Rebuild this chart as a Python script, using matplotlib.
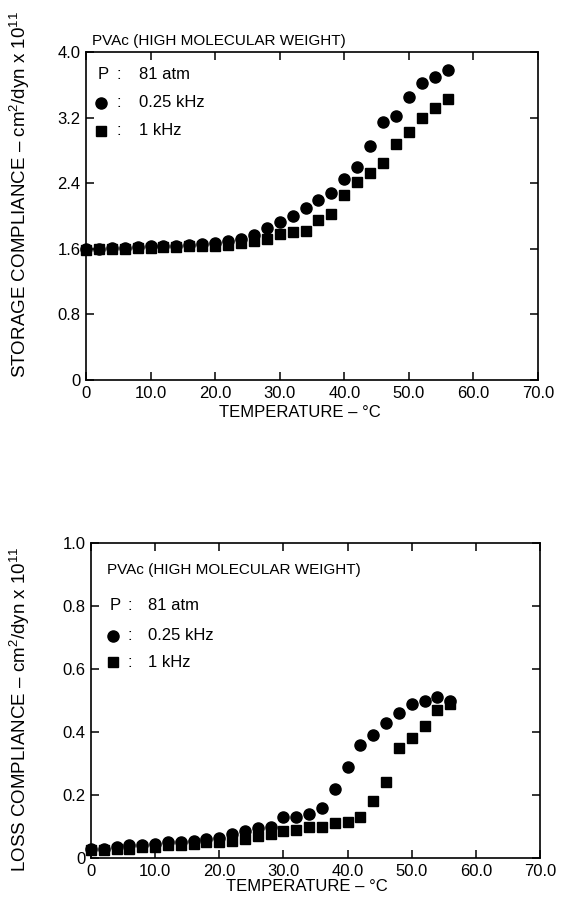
import matplotlib
matplotlib.use("Agg")
import matplotlib.pyplot as plt

plt.rcParams['font.family'] = ['Liberation Sans', 'DejaVu Sans']
plt.rcParams['mathtext.fontset'] = 'custom'
plt.rcParams['mathtext.rm'] = 'Liberation Sans'
plt.rcParams['mathtext.it'] = 'Liberation Sans'

# ---- data ----
temperature = [0, 2, 4, 6, 8, 10, 12, 14, 16, 18, 20, 22, 24, 26, 28,
               30, 32, 34, 36, 38, 40, 42, 44, 46, 48, 50, 52, 54, 56]

storage_025khz = [1.60, 1.60, 1.61, 1.61, 1.62, 1.63, 1.63, 1.64, 1.65, 1.66,
                  1.67, 1.69, 1.72, 1.77, 1.85, 1.93, 2.00, 2.10, 2.20, 2.28,
                  2.45, 2.60, 2.85, 3.15, 3.22, 3.45, 3.62, 3.70, 3.78]
storage_1khz = [1.59, 1.60, 1.60, 1.60, 1.61, 1.61, 1.62, 1.62, 1.63, 1.64,
                1.64, 1.65, 1.67, 1.69, 1.72, 1.78, 1.80, 1.82, 1.95, 2.03,
                2.25, 2.42, 2.52, 2.65, 2.88, 3.03, 3.20, 3.32, 3.43]

loss_025khz = [0.030, 0.030, 0.035, 0.040, 0.040, 0.045, 0.050, 0.050, 0.055, 0.060,
               0.065, 0.075, 0.085, 0.095, 0.100, 0.130, 0.130, 0.140, 0.160, 0.220,
               0.290, 0.360, 0.390, 0.430, 0.460, 0.490, 0.500, 0.510, 0.500]
loss_1khz = [0.025, 0.025, 0.030, 0.030, 0.035, 0.035, 0.040, 0.040, 0.045, 0.050,
             0.050, 0.055, 0.060, 0.070, 0.075, 0.085, 0.090, 0.100, 0.100, 0.110,
             0.115, 0.130, 0.180, 0.240, 0.350, 0.380, 0.420, 0.470, 0.490]

x_ticks = [0, 10, 20, 30, 40, 50, 60, 70]
x_ticklabels = ['0', '10.0', '20.0', '30.0', '40.0', '50.0', '60.0', '70.0']
storage_ticks = [0, 0.8, 1.6, 2.4, 3.2, 4.0]
storage_ticklabels = ['0', '0.8', '1.6', '2.4', '3.2', '4.0']
loss_ticks = [0, 0.2, 0.4, 0.6, 0.8, 1.0]
loss_ticklabels = ['0', '0.2', '0.4', '0.6', '0.8', '1.0']

title = 'PVAc (HIGH MOLECULAR WEIGHT)'
pressure = '81 atm'
freq_labels = ['0.25 kHz', '1 kHz']

fig = plt.figure(figsize=(5.69, 9.14), dpi=100)
W, H = 569, 914

def add_axes_px(left, top, right, bottom):
    return fig.add_axes([left / W, 1 - bottom / H, (right - left) / W, (bottom - top) / H])

ax1 = add_axes_px(86, 52, 538, 380)
ax2 = add_axes_px(91, 543, 540, 858)

ms = 8
FS = 11
LFS = 12
TFS = 12

def style(ax, yticks, yticklabels, ylim):
    ax.set_xlim(0, 70)
    ax.set_ylim(*ylim)
    ax.set_xticks(x_ticks)
    ax.set_xticklabels(x_ticklabels, fontsize=TFS)
    ax.set_yticks(yticks)
    ax.set_yticklabels(yticklabels, fontsize=TFS)
    ax.tick_params(direction='in', length=6, width=1.1, top=True, right=True, pad=4)
    for s in ax.spines.values():
        s.set_linewidth(1.2)

# top
ax1.plot(temperature, storage_025khz, 'o', color='black', ms=ms, clip_on=False)
ax1.plot(temperature, storage_1khz, 's', color='black', ms=ms - 0.5, clip_on=False)
style(ax1, storage_ticks, storage_ticklabels, (0, 4.0))

# bottom
ax2.plot(temperature, loss_025khz, 'o', color='black', ms=ms, clip_on=False)
ax2.plot(temperature, loss_1khz, 's', color='black', ms=ms - 0.5, clip_on=False)
style(ax2, loss_ticks, loss_ticklabels, (0, 1.0))

def annotate(ax, ty, py, cy, sy, tx, sx, colx, valx):
    ax.text(tx, ty, title, transform=ax.transAxes, fontsize=FS, va='center', ha='left')
    ax.text(sx - 0.008, py, 'P', transform=ax.transAxes, fontsize=LFS, va='center', ha='left')
    ax.text(colx, py, ':', transform=ax.transAxes, fontsize=LFS, va='center', ha='left')
    ax.text(valx, py, pressure, transform=ax.transAxes, fontsize=LFS, va='center', ha='left')
    ax.plot([sx], [cy], 'o', color='black', ms=ms, transform=ax.transAxes, clip_on=False)
    ax.text(colx, cy, ':', transform=ax.transAxes, fontsize=LFS, va='center', ha='left')
    ax.text(valx, cy, freq_labels[0], transform=ax.transAxes, fontsize=LFS, va='center', ha='left')
    ax.plot([sx], [sy], 's', color='black', ms=ms - 0.5, transform=ax.transAxes, clip_on=False)
    ax.text(colx, sy, ':', transform=ax.transAxes, fontsize=LFS, va='center', ha='left')
    ax.text(valx, sy, freq_labels[1], transform=ax.transAxes, fontsize=LFS, va='center', ha='left')

annotate(ax1, 1.035, 0.93, 0.845, 0.76, 0.013, 0.033, 0.068, 0.118)
annotate(ax2, 0.914, 0.80, 0.705, 0.622, 0.036, 0.050, 0.082, 0.127)

fig.text(0.035, 0.787, 'STORAGE COMPLIANCE – cm$^2$/dyn x 10$^{11}$', rotation=90,
         fontsize=13.5, ha='center', va='center')
fig.text(0.035, 0.224, 'LOSS COMPLIANCE – cm$^2$/dyn x 10$^{11}$', rotation=90,
         fontsize=13.5, ha='center', va='center')
fig.text(0.527, 0.549, 'TEMPERATURE – °C', fontsize=TFS, ha='center', va='center')
fig.text(0.540, 0.030, 'TEMPERATURE – °C', fontsize=TFS, ha='center', va='center')

fig.savefig('out.png', dpi=100)
